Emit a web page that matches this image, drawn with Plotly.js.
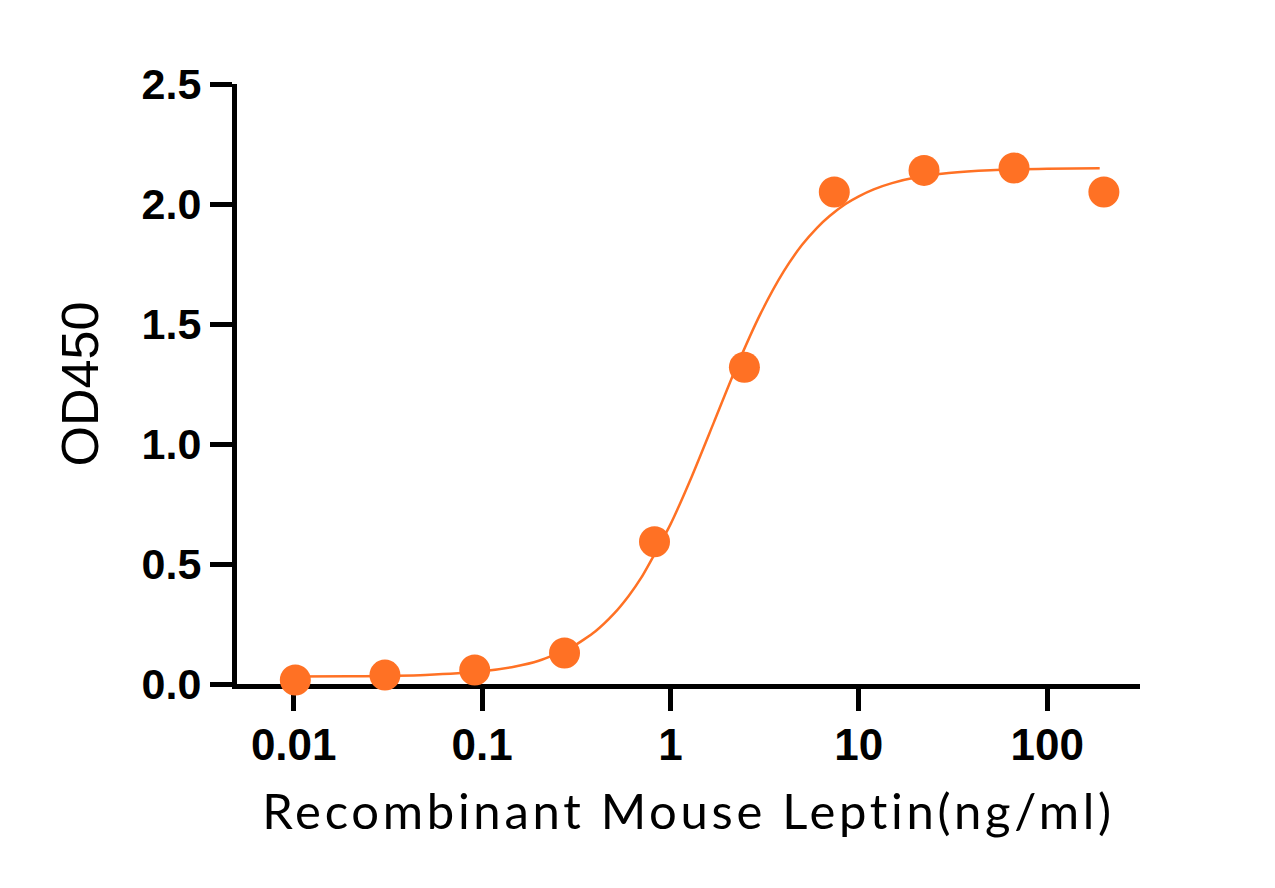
<!DOCTYPE html>
<html>
<head>
<meta charset="utf-8">
<script src="https://cdn.plot.ly/plotly-3.0.1.min.js"></script>
<style>
  html, body { margin: 0; padding: 0; background: #ffffff; }
  #chart { width: 1275px; height: 888px; }
  /* loosen the tracking of the x-axis caption */
  #chart .xtitle { letter-spacing: 3.7px; }
</style>
</head>
<body>
<div id="chart"></div>
<script>
// Measured OD450 for a 3-fold dilution series of recombinant mouse leptin (ng/ml)
const concentration = [0.0102, 0.0305, 0.0914, 0.274, 0.823, 2.47, 7.41, 22.2, 66.7, 200];
const od450 = [0.017, 0.037, 0.058, 0.129, 0.593, 1.32, 2.05, 2.14, 2.15, 2.05];

// Points along the fitted dose-response curve
const fitX = [0.01, 0.02, 0.05, 0.1, 0.15, 0.2, 0.3, 0.4, 0.5, 0.6, 0.7, 1, 1.3, 1.7, 2.2, 3, 4, 5, 6, 7, 8.5, 10, 12, 15, 20, 30, 50, 100, 190];
const fitY = [0.031, 0.032, 0.038, 0.053, 0.073, 0.097, 0.154, 0.220, 0.292, 0.367, 0.443, 0.665, 0.866, 1.09, 1.306, 1.541, 1.720, 1.830, 1.901, 1.950, 2.000, 2.032, 2.061, 2.087, 2.110, 2.129, 2.141, 2.147, 2.149];

// Axis ticks
const xTickVals = [0.01, 0.1, 1, 10, 100];
const xTickText = ['0.01', '0.1', '1', '10', '100'];
const yTickVals = [0, 0.5, 1, 1.5, 2, 2.5];
const yTickText = ['0.0', '0.5', '1.0', '1.5', '2.0', '2.5'];

const orange = '#FF7124';

const traces = [
  {
    x: fitX, y: fitY,
    type: 'scatter', mode: 'lines',
    line: { color: orange, width: 2.5, shape: 'spline', smoothing: 0.6 },
    hoverinfo: 'skip', cliponaxis: false
  },
  {
    x: concentration, y: od450,
    type: 'scatter', mode: 'markers',
    marker: { color: orange, size: 31, line: { width: 0 } },
    cliponaxis: false
  }
];

const layout = {
  width: 1275, height: 888,
  margin: { l: 237, r: 135, t: 84, b: 204 },
  paper_bgcolor: '#ffffff', plot_bgcolor: '#ffffff',
  showlegend: false,
  xaxis: {
    type: 'log',
    range: [Math.log10(0.005), Math.log10(311)],
    tickvals: xTickVals, ticktext: xTickText,
    ticks: 'outside', ticklen: 22, tickwidth: 5, tickcolor: '#000',
    showline: true, linewidth: 5, linecolor: '#000',
    showgrid: false, zeroline: false, layer: 'below traces',
    tickfont: { family: 'Liberation Sans, Arial, sans-serif', size: 44, weight: 'bold', color: '#000' },
    ticklabelstandoff: -4,
    title: {
      text: 'Recombinant Mouse Leptin(ng/ml)',
      font: { family: 'Lato, sans-serif', size: 49, color: '#000' },
      standoff: 28
    }
  },
  yaxis: {
    range: [0, 2.5],
    tickvals: yTickVals, ticktext: yTickText,
    ticks: 'outside', ticklen: 22, tickwidth: 5, tickcolor: '#000',
    showline: true, linewidth: 5, linecolor: '#000',
    showgrid: false, zeroline: false, layer: 'below traces',
    tickfont: { family: 'Liberation Sans, Arial, sans-serif', size: 43, weight: 'bold', color: '#000' },
    ticklabelstandoff: 0,
    title: {
      text: 'OD450',
      font: { family: 'Liberation Sans, Arial, sans-serif', size: 52, color: '#000' },
      standoff: 28
    }
  }
};

Plotly.newPlot('chart', traces, layout, { staticPlot: true, displayModeBar: false });
</script>
</body>
</html>
